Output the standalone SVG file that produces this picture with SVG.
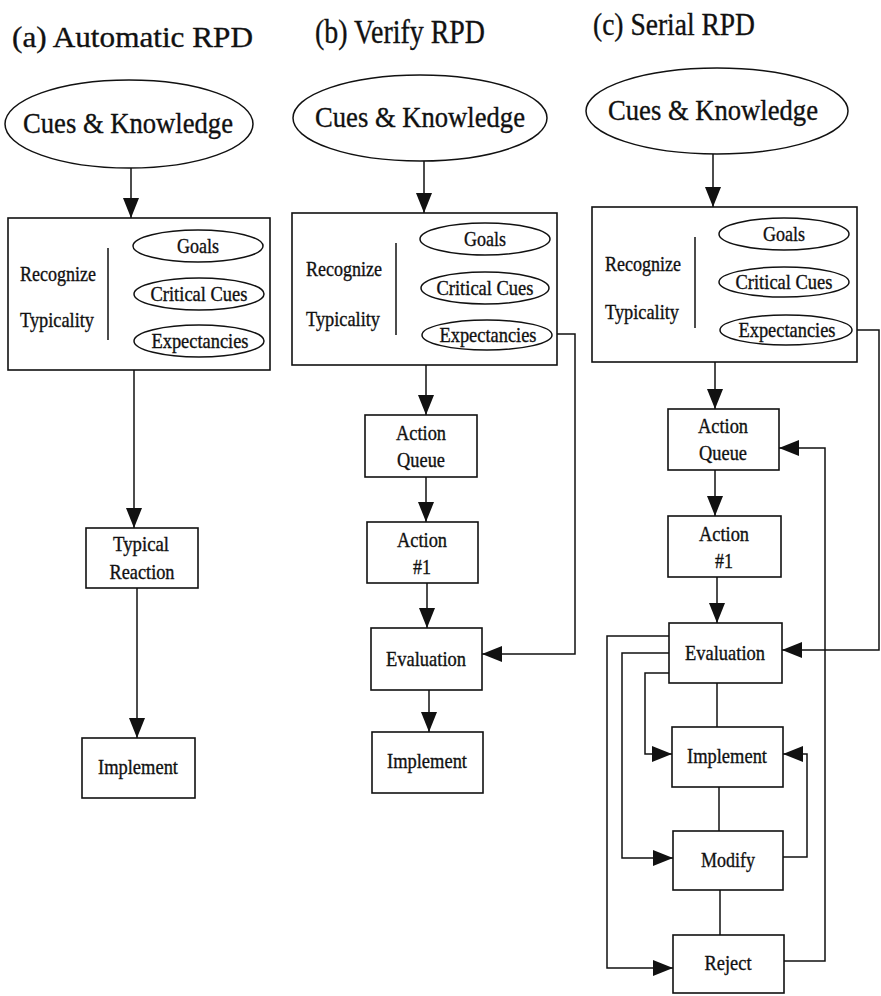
<svg xmlns="http://www.w3.org/2000/svg" width="881" height="996" viewBox="0 0 881 996">
<defs>
<marker id="ah" markerUnits="userSpaceOnUse" markerWidth="20" markerHeight="16" viewBox="0 0 20 16" refX="20" refY="8" orient="auto">
<path d="M0,0 L20,8 L0,16 z" fill="#111"/>
</marker>
<style>
text{font-family:"Liberation Serif","Times New Roman",serif;fill:#111;stroke:#111;stroke-width:0.35}
.big{font-size:30px;text-anchor:middle}
.sm{font-size:21px}
.c{text-anchor:middle}
.box{fill:#fff;stroke:#111;stroke-width:1.6}
.ov{fill:#fff;stroke:#111;stroke-width:1.5}
.ln{fill:none;stroke:#111;stroke-width:1.5}
.ar{fill:none;stroke:#111;stroke-width:1.5;marker-end:url(#ah)}
</style>
</defs>
<rect width="881" height="996" fill="#fff"/>

<text x="12" y="47" font-size="30" textLength="241" lengthAdjust="spacingAndGlyphs">(a) Automatic RPD</text>
<text x="315" y="43" font-size="33" textLength="170" lengthAdjust="spacingAndGlyphs">(b) Verify RPD</text>
<text x="593" y="35" font-size="31" textLength="162" lengthAdjust="spacingAndGlyphs">(c) Serial RPD</text>

<g id="connectors">
<!-- (a) -->
<line class="ar" x1="131" y1="168" x2="131" y2="218"/>
<line class="ar" x1="134" y1="370" x2="134" y2="528"/>
<line class="ar" x1="137" y1="588" x2="137" y2="738"/>
<!-- (b) -->
<line class="ar" x1="424" y1="161" x2="424" y2="213"/>
<line class="ar" x1="426" y1="365" x2="426" y2="415"/>
<line class="ar" x1="426" y1="477" x2="426" y2="522"/>
<line class="ar" x1="427" y1="583" x2="427" y2="628"/>
<line class="ar" x1="429" y1="690" x2="429" y2="732"/>
<polyline class="ar" points="552,334 575,334 575,654 482,654"/>
<!-- (c) -->
<line class="ar" x1="713" y1="154" x2="713" y2="207"/>
<line class="ar" x1="715" y1="362" x2="715" y2="409"/>
<line class="ar" x1="715" y1="470" x2="715" y2="516"/>
<line class="ar" x1="717" y1="577" x2="717" y2="623"/>
<polyline class="ar" points="852,330 879,330 879,650 782,650"/>
<line class="ln" x1="717" y1="683" x2="717" y2="727"/>
<line class="ln" x1="719" y1="787" x2="719" y2="831"/>
<line class="ln" x1="720" y1="890" x2="720" y2="935"/>
<polyline class="ar" points="669,636 607,636 607,968 673,968"/>
<polyline class="ar" points="669,653 622,653 622,858 673,858"/>
<polyline class="ar" points="669,673 645,673 645,754 672,754"/>
<polyline class="ar" points="783,857 807,857 807,754 783,754"/>
<polyline class="ar" points="784,961 825,961 825,448 779,448"/>
</g>

<!-- Panel (a) -->
<g id="a-cues">
<ellipse class="ov" cx="129" cy="124" rx="124" ry="44"/>
<text class="big" x="128" y="133" textLength="210" lengthAdjust="spacingAndGlyphs">Cues &amp; Knowledge</text>
</g>
<g id="a-recognize">
<rect class="box" x="8" y="218" width="262" height="152"/>
<line class="ln" x1="108" y1="248" x2="108" y2="340"/>
<text class="sm" x="20" y="281" textLength="76" lengthAdjust="spacingAndGlyphs">Recognize</text>
<text class="sm" x="20" y="327" textLength="74" lengthAdjust="spacingAndGlyphs">Typicality</text>
<ellipse class="ov" cx="198" cy="246" rx="65" ry="16"/>
<text class="sm c" x="198" y="253" textLength="42" lengthAdjust="spacingAndGlyphs">Goals</text>
<ellipse class="ov" cx="199" cy="294" rx="65" ry="16"/>
<text class="sm c" x="199" y="301" textLength="97" lengthAdjust="spacingAndGlyphs">Critical Cues</text>
<ellipse class="ov" cx="199" cy="341" rx="65" ry="16"/>
<text class="sm c" x="200" y="348" textLength="97" lengthAdjust="spacingAndGlyphs">Expectancies</text>
</g>
<g id="a-typical">
<rect class="box" x="86" y="528" width="112" height="60"/>
<text class="sm c" x="141" y="551" textLength="56" lengthAdjust="spacingAndGlyphs">Typical</text>
<text class="sm c" x="142" y="579" textLength="65" lengthAdjust="spacingAndGlyphs">Reaction</text>
</g>
<g id="a-implement">
<rect class="box" x="82" y="738" width="113" height="60"/>
<text class="sm c" x="138" y="774" textLength="80" lengthAdjust="spacingAndGlyphs">Implement</text>
</g>

<!-- Panel (b) -->
<g id="b-cues">
<ellipse class="ov" cx="420" cy="118" rx="127" ry="43"/>
<text class="big" x="420" y="127" textLength="210" lengthAdjust="spacingAndGlyphs">Cues &amp; Knowledge</text>
</g>
<g id="b-recognize">
<rect class="box" x="292" y="213" width="265" height="152"/>
<line class="ln" x1="396" y1="243" x2="396" y2="335"/>
<text class="sm" x="306" y="276" textLength="76" lengthAdjust="spacingAndGlyphs">Recognize</text>
<text class="sm" x="306" y="326" textLength="74" lengthAdjust="spacingAndGlyphs">Typicality</text>
<ellipse class="ov" cx="485" cy="239" rx="65" ry="16"/>
<text class="sm c" x="485" y="246" textLength="42" lengthAdjust="spacingAndGlyphs">Goals</text>
<ellipse class="ov" cx="485" cy="288" rx="64" ry="16"/>
<text class="sm c" x="485" y="295" textLength="97" lengthAdjust="spacingAndGlyphs">Critical Cues</text>
<ellipse class="ov" cx="487" cy="335" rx="65" ry="15"/>
<text class="sm c" x="488" y="342" textLength="97" lengthAdjust="spacingAndGlyphs">Expectancies</text>
</g>
<g id="b-queue">
<rect class="box" x="365" y="415" width="112" height="62"/>
<text class="sm c" x="421" y="440" textLength="50" lengthAdjust="spacingAndGlyphs">Action</text>
<text class="sm c" x="421" y="467" textLength="48" lengthAdjust="spacingAndGlyphs">Queue</text>
</g>
<g id="b-action1">
<rect class="box" x="367" y="522" width="111" height="61"/>
<text class="sm c" x="422" y="547" textLength="50" lengthAdjust="spacingAndGlyphs">Action</text>
<text class="sm c" x="422" y="574" textLength="18" lengthAdjust="spacingAndGlyphs">#1</text>
</g>
<g id="b-evaluation">
<rect class="box" x="371" y="628" width="111" height="62"/>
<text class="sm c" x="426" y="666" textLength="80" lengthAdjust="spacingAndGlyphs">Evaluation</text>
</g>
<g id="b-implement">
<rect class="box" x="372" y="732" width="111" height="61"/>
<text class="sm c" x="427" y="768" textLength="80" lengthAdjust="spacingAndGlyphs">Implement</text>
</g>

<!-- Panel (c) -->
<g id="c-cues">
<ellipse class="ov" cx="717" cy="111" rx="131" ry="43"/>
<text class="big" x="713" y="120" textLength="210" lengthAdjust="spacingAndGlyphs">Cues &amp; Knowledge</text>
</g>
<g id="c-recognize">
<rect class="box" x="592" y="207" width="265" height="155"/>
<line class="ln" x1="695" y1="237" x2="695" y2="328"/>
<text class="sm" x="605" y="271" textLength="76" lengthAdjust="spacingAndGlyphs">Recognize</text>
<text class="sm" x="605" y="319" textLength="74" lengthAdjust="spacingAndGlyphs">Typicality</text>
<ellipse class="ov" cx="784" cy="234" rx="65" ry="16"/>
<text class="sm c" x="784" y="241" textLength="42" lengthAdjust="spacingAndGlyphs">Goals</text>
<ellipse class="ov" cx="784" cy="282" rx="65" ry="15"/>
<text class="sm c" x="784" y="289" textLength="97" lengthAdjust="spacingAndGlyphs">Critical Cues</text>
<ellipse class="ov" cx="786" cy="330" rx="66" ry="15"/>
<text class="sm c" x="787" y="337" textLength="97" lengthAdjust="spacingAndGlyphs">Expectancies</text>
</g>
<g id="c-queue">
<rect class="box" x="668" y="409" width="111" height="61"/>
<text class="sm c" x="723" y="433" textLength="50" lengthAdjust="spacingAndGlyphs">Action</text>
<text class="sm c" x="723" y="460" textLength="48" lengthAdjust="spacingAndGlyphs">Queue</text>
</g>
<g id="c-action1">
<rect class="box" x="668" y="516" width="113" height="61"/>
<text class="sm c" x="724" y="541" textLength="50" lengthAdjust="spacingAndGlyphs">Action</text>
<text class="sm c" x="724" y="568" textLength="18" lengthAdjust="spacingAndGlyphs">#1</text>
</g>
<g id="c-evaluation">
<rect class="box" x="669" y="623" width="113" height="60"/>
<text class="sm c" x="725" y="660" textLength="80" lengthAdjust="spacingAndGlyphs">Evaluation</text>
</g>
<g id="c-implement">
<rect class="box" x="672" y="727" width="111" height="60"/>
<text class="sm c" x="727" y="763" textLength="80" lengthAdjust="spacingAndGlyphs">Implement</text>
</g>
<g id="c-modify">
<rect class="box" x="673" y="831" width="110" height="59"/>
<text class="sm c" x="728" y="867" textLength="54" lengthAdjust="spacingAndGlyphs">Modify</text>
</g>
<g id="c-reject">
<rect class="box" x="673" y="935" width="111" height="58"/>
<text class="sm c" x="728" y="970" textLength="47" lengthAdjust="spacingAndGlyphs">Reject</text>
</g>
</svg>
